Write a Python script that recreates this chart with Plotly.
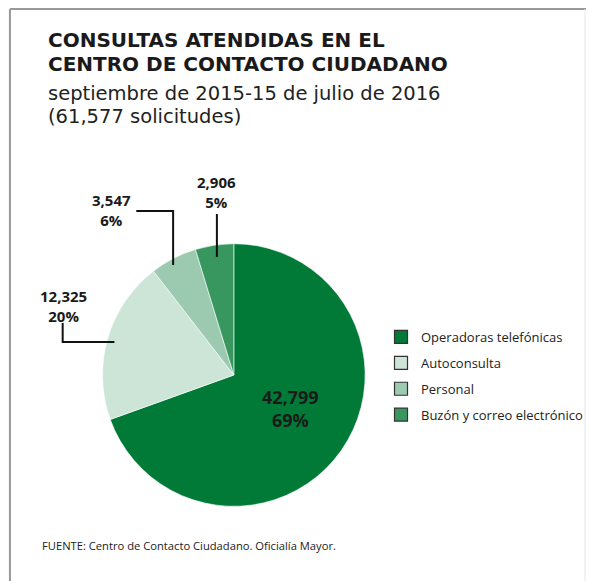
import plotly.graph_objects as go

W, H = 589, 581
font_name = "Open Sans"
title_font = "DejaVu Sans"
dark = "#1a1a1a"

# data
categories = ["Operadoras telefónicas", "Autoconsulta", "Personal", "Buzón y correo electrónico"]
values = [42799, 12325, 3547, 2906]
pct_labels = ["69%", "20%", "6%", "5%"]
colors = ["#007a36", "#cde5d7", "#9bcab1", "#38965f"]

title_lines = ["CONSULTAS ATENDIDAS EN EL", "CENTRO DE CONTACTO CIUDADANO"]
subtitle_lines = ["septiembre de 2015-15 de julio de 2016", "(61,577 solicitudes)"]
source = "FUENTE: Centro de Contacto Ciudadano. Oficialía Mayor."


def px(x):
    return x / W


def py(y):
    return 1 - y / H


fig = go.Figure()

fig.add_trace(go.Pie(
    labels=categories, values=values, text=pct_labels,
    sort=False, direction="clockwise", rotation=0,
    marker=dict(colors=colors, line=dict(color="white", width=0.6)),
    textinfo="none", showlegend=False, hoverinfo="label+value",
    domain=dict(x=[px(103), px(367)], y=[py(507), py(243)]),
))

# legend entries with outlined squares
for name, c in zip(categories, colors):
    fig.add_trace(go.Scatter(
        x=[None], y=[None], mode="markers", name=name, legendgroup=name,
        marker=dict(symbol="square", size=13, color=c, line=dict(color="#333", width=1.2)),
    ))

ann = []
for i, t in enumerate(title_lines):
    ann.append(dict(x=px(46), y=py(40 + 24 * i), text=t, xanchor="left", yanchor="middle",
                    font=dict(family=title_font, size=20, color=dark, weight="bold")))
for i, t in enumerate(subtitle_lines):
    ann.append(dict(x=px(46), y=py(93 + 24 * i), text=t, xanchor="left", yanchor="middle",
                    font=dict(family=title_font, size=19.5, color="#222")))

# outer labels: (index, x center, y center of the two lines)
outer = [(1, 64, 306), (2, 112, 210), (3, 218, 192)]
for i, x, y in outer:
    ann.append(dict(x=px(x), y=py(y), text=f"{values[i]:,}<br>{pct_labels[i]}",
                    xanchor="center", yanchor="middle",
                    font=dict(size=15, color=dark, weight="bold")))

# big slice label
ann.append(dict(x=px(292), y=py(409), text=f"{values[0]:,}<br>{pct_labels[0]}",
                xanchor="center", yanchor="middle",
                font=dict(size=18, color=dark, weight="bold")))

ann.append(dict(x=px(40), y=py(545), text=source, xanchor="left", yanchor="middle",
                font=dict(size=11.2, color="#222")))

for a in ann:
    a.update(xref="paper", yref="paper", showarrow=False)

line = dict(color="#111", width=2)
leaders = [
    [(63, 323), (63, 342), (115, 342)],
    [(137, 211), (174, 211), (174, 265)],
    [(218, 214), (218, 257)],
]
shapes = []
for pts in leaders:
    path = "M " + " L ".join(f"{px(a)},{py(b)}" for a, b in pts)
    shapes.append(dict(type="path", path=path, xref="paper", yref="paper", line=line))

# frame
shapes.append(dict(type="line", xref="paper", yref="paper", x0=px(10), x1=px(589), y0=py(9), y1=py(9),
                   line=dict(color="#999", width=2)))
shapes.append(dict(type="line", xref="paper", yref="paper", x0=px(10), x1=px(10), y0=py(9), y1=py(581),
                   line=dict(color="#999", width=2)))
shapes.append(dict(type="line", xref="paper", yref="paper", x0=px(588), x1=px(588), y0=py(9), y1=py(581),
                   line=dict(color="#e6e6e6", width=1)))

fig.update_layout(
    width=W, height=H, margin=dict(l=0, r=0, t=0, b=0),
    paper_bgcolor="white", plot_bgcolor="white",
    font=dict(family=font_name, color=dark),
    annotations=ann, shapes=shapes,
    xaxis=dict(visible=False, domain=[0, 1]), yaxis=dict(visible=False, domain=[0, 1]),
    legend=dict(x=px(383), y=py(322), xanchor="left", yanchor="top",
                font=dict(size=13, color="#222"), tracegroupgap=6, itemwidth=30,
                bgcolor="rgba(0,0,0,0)"),
)

fig.write_html("out.html", config={"displayModeBar": False},
               post_script="document.body.style.margin='0';")
